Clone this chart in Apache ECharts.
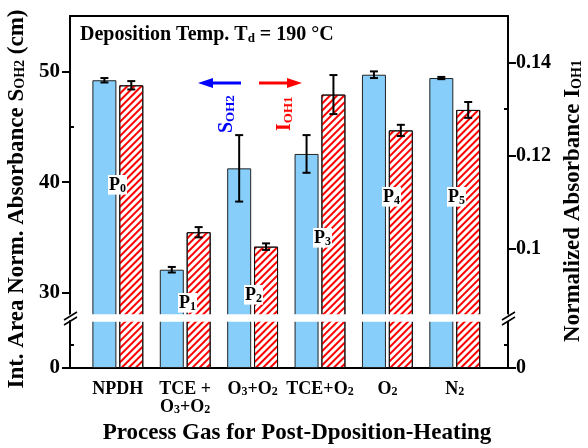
<!DOCTYPE html>
<html>
<head>
<meta charset="utf-8">
<script src="https://cdn.jsdelivr.net/npm/echarts@6.0.0/dist/echarts.min.js"></script>
<style>html,body{margin:0;padding:0;background:#fff}#main{width:588px;height:448px}</style>
</head>
<body>
<div id="main"></div>
<script>
// process gases (rich text for subscripts)
var gasLabels = ['NPDH', 'TCE +\nO{s|3}+O{s|2}', 'O{s|3}+O{s|2}', 'TCE+O{s|2}', 'O{s|2}', 'N{s|2}'];
// S_OH2, left axis (cm)
var sValues = [49.2, 32.1, 41.25, 42.55, 49.7, 49.4];
var sErrors = [0.2, 0.25, 3.0, 1.7, 0.3, 0.1];
// I_OH1, right axis
var iValues = [0.1351, 0.1035, 0.1004, 0.1331, 0.1254, 0.1298];
var iErrors = [0.0009, 0.0011, 0.0007, 0.0042, 0.0012, 0.0017];
// tick labels
var sTicks = [0, 30, 40, 50];
var iTicks = [0, 0.1, 0.12, 0.14];
var peakNames = ['P{s|0}', 'P{s|1}', 'P{s|2}', 'P{s|3}', 'P{s|4}', 'P{s|5}'];

var FONT = 'Liberation Serif';
var BAR_W = 24, BAR_GAP = 0.12;
var OFF = (BAR_W + BAR_W * BAR_GAP) / 2;

var dom = document.getElementById('main');
var myChart = echarts.init(dom);

function subRich(size, color) {
    return {
        s: { fontFamily: FONT, fontWeight: 'bold', fontSize: size, padding: [size * 0.55, 0, 0, 0], color: color || '#000' }
    };
}

function barData(vals) {
    return vals.map(function (v, i) { return [i, v]; });
}
function errData(vals, errs) {
    return vals.map(function (v, i) { return [i, v - errs[i], v + errs[i]]; });
}

function errorItem(offset) {
    return function (params, api) {
        var top = api.coord([api.value(0), api.value(2)]);
        var bot = api.coord([api.value(0), api.value(1)]);
        var cx = top[0] + offset, hw = 4;
        var st = { stroke: '#000', lineWidth: 2 };
        return {
            type: 'group',
            children: [
                { type: 'line', shape: { x1: cx, y1: top[1], x2: cx, y2: bot[1] }, style: st },
                { type: 'line', shape: { x1: cx - hw, y1: top[1], x2: cx + hw, y2: top[1] }, style: st },
                { type: 'line', shape: { x1: cx - hw, y1: bot[1], x2: cx + hw, y2: bot[1] }, style: st }
            ]
        };
    };
}

var axisLineStyle = { color: '#000', width: 2 };
var breakArea = {
    show: true,
    itemStyle: { color: '#fff', borderColor: '#fff', borderWidth: 0, opacity: 1 },
    zigzagAmplitude: 0,
    zigzagZ: 100
};

var peakPos = [[108, 175], [178, 293], [244, 285], [313, 228], [382, 187], [447, 187]];

var graphics = [
    {
        type: 'text', left: 80, top: 25, z: 200,
        style: {
            text: 'Deposition Temp. T{s|d} = 190 °C',
            font: 'bold 20px ' + FONT, fill: '#000',
            rich: subRich(13)
        }
    },
    // arrows
    { type: 'line', z: 200, shape: { x1: 210, y1: 83, x2: 241, y2: 83 }, style: { stroke: '#0000ff', lineWidth: 3 } },
    { type: 'polygon', z: 200, shape: { points: [[198, 83], [213, 78], [213, 88]] }, style: { fill: '#0000ff' } },
    { type: 'line', z: 200, shape: { x1: 259, y1: 83, x2: 290, y2: 83 }, style: { stroke: '#ff0000', lineWidth: 3 } },
    { type: 'polygon', z: 200, shape: { points: [[302, 83], [287, 78], [287, 88]] }, style: { fill: '#ff0000' } },
    {
        type: 'text', x: 217, y: 133, rotation: Math.PI / 2, z: 200,
        style: {
            text: 'S{s|OH2}', font: 'bold 20px ' + FONT, fill: '#0000ff',
            rich: subRich(13, '#0000ff')
        }
    },
    {
        type: 'text', x: 275, y: 131, rotation: Math.PI / 2, z: 200,
        style: {
            text: 'I{s|OH1}', font: 'bold 20px ' + FONT, fill: '#ff0000',
            rich: subRich(13, '#ff0000')
        }
    },
    // axis break marks
    { type: 'line', z: 200, shape: { x1: 64, y1: 320, x2: 77, y2: 312 }, style: { stroke: '#000', lineWidth: 1.5 } },
    { type: 'line', z: 200, shape: { x1: 64, y1: 325, x2: 77, y2: 317 }, style: { stroke: '#000', lineWidth: 1.5 } },
    { type: 'line', z: 200, shape: { x1: 502, y1: 320, x2: 515, y2: 312 }, style: { stroke: '#000', lineWidth: 1.5 } },
    { type: 'line', z: 200, shape: { x1: 502, y1: 325, x2: 515, y2: 317 }, style: { stroke: '#000', lineWidth: 1.5 } },
    // small ticks below the break
    { type: 'line', z: 200, shape: { x1: 70, y1: 345, x2: 74, y2: 345 }, style: { stroke: '#000', lineWidth: 2 } },
    { type: 'line', z: 200, shape: { x1: 504, y1: 345, x2: 508, y2: 345 }, style: { stroke: '#000', lineWidth: 2 } }
];
peakNames.forEach(function (t, i) {
    graphics.push({
        type: 'text', x: peakPos[i][0], y: peakPos[i][1], z: 150,
        style: {
            text: t, font: 'bold 18px ' + FONT, fill: '#000',
            backgroundColor: '#fff', padding: [1, 1, 0, 1],
            rich: subRich(12)
        }
    });
});

option = {
    backgroundColor: '#fff',
    animation: false,
    textStyle: { fontFamily: FONT, fontWeight: 'bold', color: '#000' },
    grid: { left: 70, right: 80, top: 16, bottom: 80, outerBoundsMode: 'none', containLabel: false },
    xAxis: [{
        type: 'value',
        min: -0.71,
        max: 5.79,
        axisLine: { onZero: false, lineStyle: axisLineStyle },
        axisTick: { show: false },
        splitLine: { show: false },
        axisLabel: {
            customValues: [0, 1, 2, 3, 4, 5],
            margin: 12,
            fontSize: 18, fontWeight: 'bold', fontFamily: FONT, color: '#000',
            lineHeight: 18,
            formatter: function (v) { return gasLabels[Math.round(v)]; },
            rich: subRich(12)
        },
        name: 'Process Gas for Post-Dposition-Heating',
        nameLocation: 'middle',
        nameGap: 50,
        nameTextStyle: { fontSize: 23, fontWeight: 'bold', fontFamily: FONT, color: '#000', padding: [0, 0, 0, 16] }
    }, {
        type: 'value', position: 'top',
        min: -0.71, max: 5.79,
        axisLine: { onZero: false, lineStyle: axisLineStyle },
        axisTick: { show: false }, axisLabel: { show: false }, splitLine: { show: false }
    }],
    yAxis: [{
        type: 'value',
        min: 0, max: 55, interval: 10,
        breaks: [{ start: 4.24, end: 28.1, gap: 0.63 }],
        breakArea: breakArea,
        axisLine: { show: true, onZero: false, lineStyle: axisLineStyle },
        axisTick: { show: true, length: 8, customValues: sTicks, lineStyle: { width: 2 } },
        minorTick: { show: true, splitNumber: 2, length: -4, lineStyle: { color: '#000', width: 2 } },
        splitLine: { show: false },
        axisLabel: {
            customValues: sTicks,
            margin: 10,
            fontSize: 21, fontWeight: 'bold', fontFamily: FONT, color: '#000',
            formatter: function (v) { return String(Math.round(v)); }
        },
        name: 'Int. Area Norm. Absorbance S{s|OH2} (cm)',
        nameLocation: 'middle',
        nameGap: 40,
        nameTextStyle: {
            fontSize: 23, fontWeight: 'bold', fontFamily: FONT, color: '#000',
            padding: [0, 14, 0, 0],
            rich: subRich(14)
        }
    }, {
        type: 'value',
        position: 'right',
        min: 0, max: 0.15, interval: 0.02,
        breaks: [{ start: 0.0101, end: 0.0859, gap: 0.0015 }],
        breakArea: breakArea,
        axisLine: { show: true, onZero: false, lineStyle: axisLineStyle },
        axisTick: { show: true, length: 8, customValues: iTicks, lineStyle: { width: 2 } },
        minorTick: { show: true, splitNumber: 2, length: -4, lineStyle: { color: '#000', width: 2 } },
        splitLine: { show: false },
        axisLabel: {
            customValues: iTicks,
            margin: 8,
            fontSize: 20, fontWeight: 'bold', fontFamily: FONT, color: '#000',
            formatter: function (v) { return String(+v.toFixed(3)); }
        },
        name: 'Normalized Absorbance I{s|OH1}',
        nameLocation: 'middle',
        nameGap: 54,
        nameRotate: 90,
        nameTextStyle: {
            fontSize: 23, fontWeight: 'bold', fontFamily: FONT, color: '#000',
            padding: [0, 18, 0, 0],
            rich: subRich(14)
        }
    }],
    graphic: graphics,
    series: [{
        name: 'S_OH2',
        type: 'bar',
        xAxisIndex: 0, yAxisIndex: 0,
        barWidth: BAR_W,
        barGap: (BAR_GAP * 100) + '%',
        itemStyle: { color: '#87cefa', borderColor: '#222', borderWidth: 1 },
        data: barData(sValues)
    }, {
        name: 'I_OH1',
        type: 'bar',
        xAxisIndex: 0, yAxisIndex: 1,
        barWidth: BAR_W,
        barGap: (BAR_GAP * 100) + '%',
        itemStyle: {
            color: '#fff', borderColor: '#111', borderWidth: 1,
            decal: { symbol: 'rect', color: '#ff0000', dashArrayX: [1, 0], dashArrayY: [2, 3], rotation: -Math.PI / 4 }
        },
        data: barData(iValues)
    }, {
        type: 'custom',
        xAxisIndex: 0, yAxisIndex: 0,
        renderItem: errorItem(-OFF),
        encode: { x: 0, y: [1, 2] },
        z: 10,
        data: errData(sValues, sErrors)
    }, {
        type: 'custom',
        xAxisIndex: 0, yAxisIndex: 1,
        renderItem: errorItem(OFF),
        encode: { x: 0, y: [1, 2] },
        z: 10,
        data: errData(iValues, iErrors)
    }]
};

if (option && typeof option === "object") {
    myChart.setOption(option, true);
}
</script>
</body>
</html>
